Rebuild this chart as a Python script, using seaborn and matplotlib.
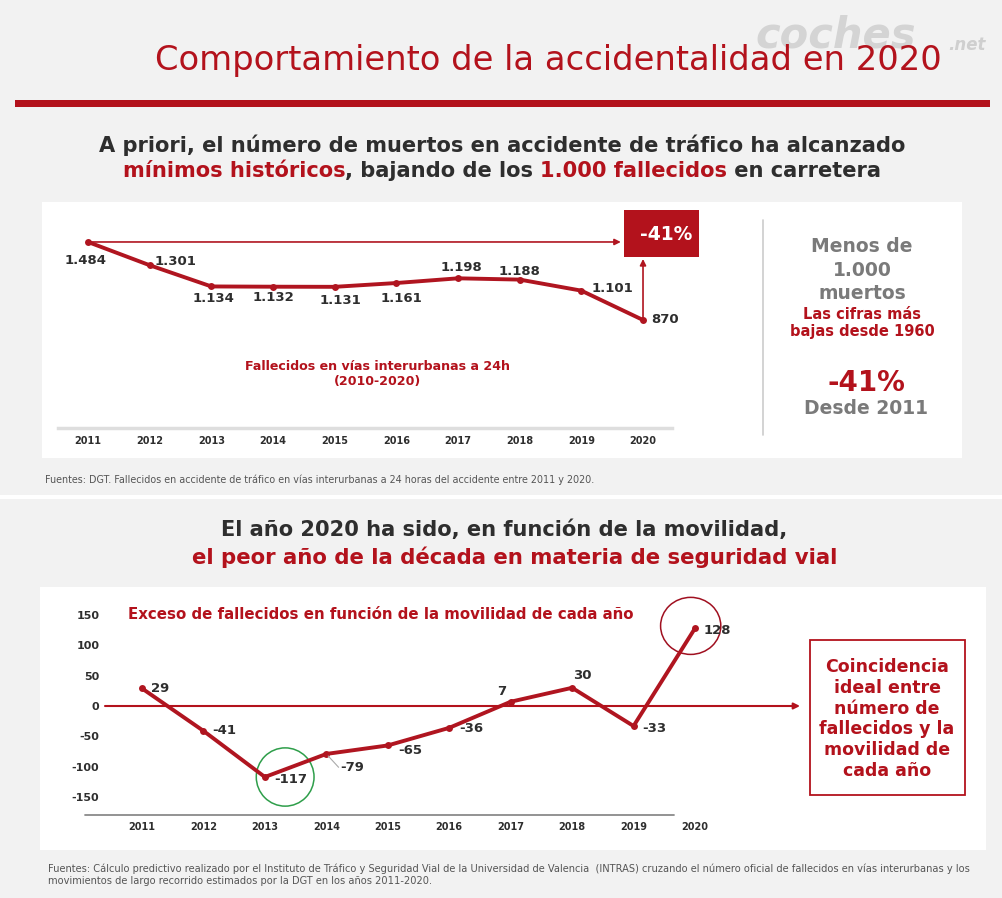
import numpy as np
import pandas as pd
import seaborn as sns
import matplotlib.pyplot as plt
import matplotlib.patches as mpatches

# data
years = list(range(2011, 2021))
fallecidos = [1484, 1301, 1134, 1132, 1131, 1161, 1198, 1188, 1101, 870]
fallecidos_txt = ['1.484', '1.301', '1.134', '1.132', '1.131', '1.161', '1.198', '1.188', '1.101', '870']
exceso = [29, -41, -117, -79, -65, -36, 7, 30, -33, 128]
exceso_ticks = [-150, -100, -50, 0, 50, 100, 150]

# label offsets in pixels (dx, dy up), ha
off_top = [(-2, -19, 'center'), (5, 4, 'left'), (2, -12, 'center'), (0, -11, 'center'),
           (6, -14, 'center'), (5, -15, 'center'), (3, 11, 'center'), (0, 8, 'center'),
           (10, 2, 'left'), (8, 0, 'left')]
off_bot = [(9, 0, 'left'), (9, 0, 'left'), (9, -2, 'left'), (14, -14, 'left'), (10, -5, 'left'),
           (10, -1, 'left'), (-9, 10, 'center'), (10, 12, 'center'), (9, -2, 'left'), (9, -2, 'left')]

RED = '#b3121c'
LINE = '#b01520'
DARK = '#2e2e2e'
GRAY = '#7a7a7a'
BG = '#f2f2f2'

sns.set_style('white')
plt.rcParams['font.family'] = ['DejaVu Sans']

W, H = 1002, 898
fig = plt.figure(figsize=(W / 100, H / 100), dpi=100, facecolor=BG)
renderer = fig.canvas.get_renderer()


def px(x, y):
    return x / W, 1 - y / H


def rect(x0, y0, x1, y1, **kw):
    fig.add_artist(mpatches.Rectangle(px(x0, y1), (x1 - x0) / W, (y1 - y0) / H,
                                      transform=fig.transFigure, **kw))


def txt(x, y, s, **kw):
    return fig.text(*px(x, y), s, **kw)


def width_of(s, **kw):
    t = fig.text(0, 0, s + '|', **kw)
    w = t.get_window_extent(renderer).width
    t.remove()
    t = fig.text(0, 0, '|', **kw)
    w -= t.get_window_extent(renderer).width
    t.remove()
    return w


def fit(s, target, **kw):
    return 10 * target / width_of(s, fontsize=10, **kw)


def rich(cx, y, parts, size, **kw):
    full = ''.join(p for p, c in parts)
    x0 = cx - width_of(full, fontsize=size, **kw) / 2
    prefix = ''
    for p, c in parts:
        dx = width_of(prefix, fontsize=size, **kw) if prefix else 0
        txt(x0 + dx, y, p, color=c, fontsize=size, ha='left', va='center', **kw)
        prefix += p


# background panels
rect(42, 202, 962, 458, facecolor='white', edgecolor='none', zorder=0)
rect(40, 587, 986, 850, facecolor='white', edgecolor='none', zorder=0)
rect(0, 495, W, 499, facecolor='white', edgecolor='none', zorder=0)
rect(15, 100, 990, 107, facecolor=RED, edgecolor='none', zorder=1)

# logo (behind the title)
txt(755, 48, 'coches', fontsize=30, fontweight='bold', style='italic', color='#d4d4d4',
    ha='left', va='baseline', zorder=1)
txt(948, 50, '.net', fontsize=12, fontweight='bold', style='italic', color='#cfcfcf',
    ha='left', va='baseline', zorder=1)

# title
tfam = ['Liberation Sans Narrow', 'DejaVu Sans']
title = 'Comportamiento de la accidentalidad en 2020'
txt(155, 70, title, family=tfam, fontsize=fit(title, 787, family=tfam), color=RED,
    ha='left', va='baseline', zorder=3)

# headings
h1 = 'A priori, el número de muertos en accidente de tráfico ha alcanzado'
hs = fit(h1, 811, fontweight='bold')
rich(502, 145, [(h1, DARK)], hs, fontweight='bold')
rich(502, 171, [('mínimos históricos', RED), (', bajando de los ', DARK),
                ('1.000 fallecidos', RED), (' en carretera', DARK)], hs, fontweight='bold')
h2a = 'El año 2020 ha sido, en función de la movilidad,'
h2b = 'el peor año de la década en materia de seguridad vial'
rich(504, 530, [(h2a, DARK)], hs, fontweight='bold')
rich(515, 557, [(h2b, RED)], fit(h2b, 650, fontweight='bold'), fontweight='bold')

# top chart
ax1 = fig.add_axes([58 / W, 1 - 428 / H, 614 / W, 223 / H])
ax1.set_facecolor('none')
df1 = pd.DataFrame({'year': years, 'fallecidos': fallecidos})
sns.lineplot(data=df1, x='year', y='fallecidos', ax=ax1, color=LINE, lw=2.8,
             marker='o', markersize=5, markeredgewidth=0)
ax1.set_xlim(2010.514, 2020.47)
ax1.set_ylim(20, 1775)
for s in ['top', 'left', 'right']:
    ax1.spines[s].set_visible(False)
ax1.spines['bottom'].set_color('#dedede')
ax1.spines['bottom'].set_linewidth(2.5)
ax1.set_xticks(years)
ax1.set_xticklabels([str(y) for y in years], fontsize=7, fontweight='bold', color=DARK)
ax1.tick_params(axis='x', length=0, pad=6)
ax1.set_yticks([])
ax1.set_xlabel('')
ax1.set_ylabel('')
for x, v, lab, (dx, dy, ha) in zip(years, fallecidos, fallecidos_txt, off_top):
    ax1.annotate(lab, xy=(x, v), xytext=(dx, dy), textcoords='offset pixels', ha=ha,
                 va='center', fontsize=9.5, fontweight='bold', color=DARK)
ax1.annotate('', xy=(2019.64, fallecidos[0]), xytext=(years[0], fallecidos[0]),
             arrowprops=dict(arrowstyle='-|>', color=LINE, lw=1.2, mutation_scale=9,
                             shrinkA=0, shrinkB=0))
ax1.annotate('', xy=(years[-1], 1350), xytext=(years[-1], fallecidos[-1]),
             arrowprops=dict(arrowstyle='-|>', color=LINE, lw=1.2, mutation_scale=9,
                             shrinkA=0, shrinkB=0))
ax1.text(0.52, 0.243, 'Fallecidos en vías interurbanas a 24h\n(2010-2020)', transform=ax1.transAxes,
         ha='center', va='center', fontsize=9.1, fontweight='bold', color=RED, linespacing=1.25)

rect(624, 210, 699, 257, facecolor=RED, edgecolor='none', zorder=3)
txt(666, 234, '-41%', fontsize=13.5, fontweight='bold', color='white', ha='center',
    va='center', zorder=4)

# right text block
fig.add_artist(plt.Line2D([763 / W, 763 / W], [1 - 220 / H, 1 - 435 / H], color='#cccccc',
                          lw=1.2, transform=fig.transFigure))
txt(862, 270, 'Menos de\n1.000\nmuertos', fontsize=13.5, fontweight='bold', color=GRAY,
    ha='center', va='center', linespacing=1.3)
txt(862, 323, 'Las cifras más\nbajas desde 1960', fontsize=10.5, fontweight='bold', color=RED,
    ha='center', va='center', linespacing=1.1)
txt(866, 383, '-41%', fontsize=20, fontweight='bold', color=RED, ha='center', va='center')
txt(866, 409, 'Desde 2011', fontsize=13.5, fontweight='bold', color=GRAY, ha='center', va='center')

# footnote 1
f1 = 'Fuentes: DGT. Fallecidos en accidente de tráfico en vías interurbanas a 24 horas del accidente entre 2011 y 2020.'
fs = fit(f1, 550, family=tfam)
txt(45, 480, f1, family=tfam, fontsize=fs, color='#555555', ha='left', va='center')

# bottom chart
ax2 = fig.add_axes([105 / W, 1 - 815 / H, 695 / W, 220 / H])
ax2.set_facecolor('none')
df2 = pd.DataFrame({'year': years, 'exceso': exceso})
sns.lineplot(data=df2, x='year', y='exceso', ax=ax2, color=LINE, lw=2.8,
             marker='o', markersize=5, markeredgewidth=0, zorder=3)
ax2.set_xlim(2010.398, 2021.709)
ax2.set_ylim(-179.6, 182.9)
for s in ['top', 'left', 'right', 'bottom']:
    ax2.spines[s].set_visible(False)
ax2.plot([-0.029, 0.819], [0, 0], transform=ax2.transAxes, color='#8a8a8a', lw=1.3, clip_on=False)
ax2.annotate('', xy=(2021.709, 0), xytext=(2010.398, 0),
             arrowprops=dict(arrowstyle='-|>', color=RED, lw=1.5, mutation_scale=9,
                             shrinkA=0, shrinkB=0))
ax2.set_yticks(exceso_ticks)
ax2.set_yticklabels([str(t) for t in exceso_ticks], fontsize=8, fontweight='bold', color=DARK)
ax2.set_xticks(years)
ax2.set_xticklabels([str(y) for y in years], fontsize=7, fontweight='bold', color=DARK)
ax2.tick_params(axis='both', length=0)
ax2.tick_params(axis='y', pad=4)
ax2.tick_params(axis='x', pad=5)
ax2.set_xlabel('')
ax2.set_ylabel('')
for x, v, (dx, dy, ha) in zip(years, exceso, off_bot):
    ax2.annotate(str(v), xy=(x, v), xytext=(dx, dy), textcoords='offset pixels', ha=ha,
                 va='center', fontsize=9.5, fontweight='bold', color=DARK)
ax2.annotate('', xy=(years[3], exceso[3]), xytext=(years[3] + 0.2, exceso[3] - 22),
             arrowprops=dict(arrowstyle='-', color='#aaaaaa', lw=0.8, shrinkA=0, shrinkB=2))
ax2.add_patch(mpatches.Ellipse((2019.93, 132), 0.98, 94, facecolor='none', edgecolor='#a01020',
                               lw=1.1, clip_on=False))
ax2.add_patch(mpatches.Ellipse((2013.33, -117), 0.94, 96, facecolor='none', edgecolor='#2e9e4a',
                               lw=1.1, clip_on=False))
sub = 'Exceso de fallecidos en función de la movilidad de cada año'
ax2.text(2010.77, 150, sub, ha='left', va='center', fontsize=fit(sub, 509, fontweight='bold'),
         fontweight='bold', color=RED)

# box right
rect(810, 640, 965, 795, facecolor='white', edgecolor=RED, lw=1.3, zorder=2)
txt(887, 719, 'Coincidencia\nideal entre\nnúmero de\nfallecidos y la\nmovilidad de\ncada año',
    fontsize=12.5, fontweight='bold', color=RED, ha='center', va='center', zorder=3)

# footnote 2
f2a = ('Fuentes: Cálculo predictivo realizado por el Instituto de Tráfico y Seguridad Vial de la '
       'Universidad de Valencia  (INTRAS) cruzando el número oficial de fallecidos en vías interurbanas y los')
f2b = 'movimientos de largo recorrido estimados por la DGT en los años 2011-2020.'
fs2 = fit(f2a, 927, family=tfam)
txt(48, 869, f2a, family=tfam, fontsize=fs2, color='#555555', ha='left', va='center')
txt(48, 881, f2b, family=tfam, fontsize=fs2, color='#555555', ha='left', va='center')

fig.savefig('out.png', dpi=100, facecolor=BG)
